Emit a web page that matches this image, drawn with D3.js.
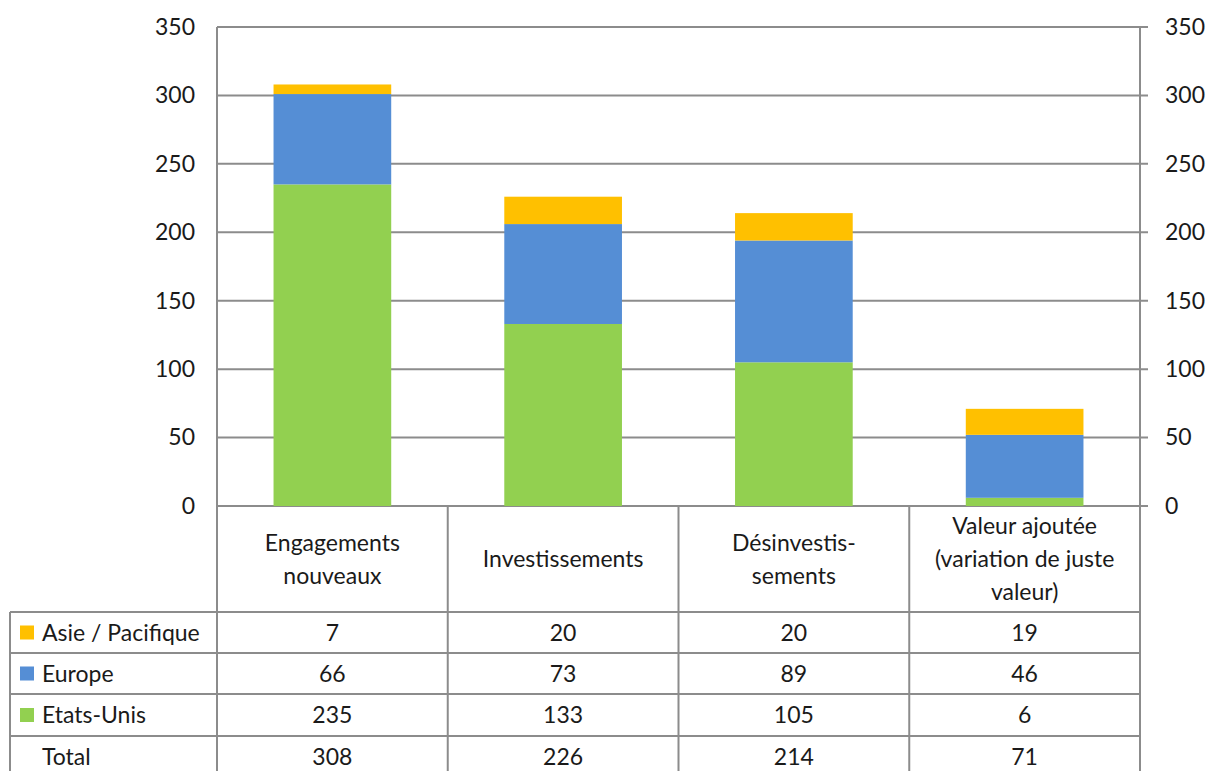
<!DOCTYPE html>
<html>
<head>
<meta charset="utf-8">
<script src="https://cdn.jsdelivr.net/npm/d3@7"></script>
<style>
  body { margin: 0; background: #fff; }
  text { font-family: Lato, "Open Sans", sans-serif; fill: #1a1a1a; }
</style>
</head>
<body>
<svg id="chart"></svg>
<script>
const categories = [
  ["Engagements", "nouveaux"],
  ["Investissements"],
  ["Désinvestis-", "sements"],
  ["Valeur ajoutée", "(variation de juste", "valeur)"]
];
const seriesNames = ["Asie / Pacifique", "Europe", "Etats-Unis"];
const seriesColors = ["#FFC000", "#558ED5", "#92D050"];
const asie = [7, 20, 20, 19];
const europe = [66, 73, 89, 46];
const etatsUnis = [235, 133, 105, 6];
const totals = [308, 226, 214, 71];
const yTicks = [0, 50, 100, 150, 200, 250, 300, 350];

const width = 1212, height = 771;
const plotL = 217, plotR = 1140, plotT = 27, plotB = 506;
const gridColor = "#8c8c8c";
const fs = "23px";

const svg = d3.select("#chart").attr("width", width).attr("height", height);

const x = d3.scaleBand().domain(d3.range(categories.length)).range([plotL, plotR]).paddingInner(0).paddingOuter(0);
const y = d3.scaleLinear().domain([0, 350]).range([plotB, plotT]);
const barW = x.bandwidth() * 0.51;

// gridlines
svg.append("g").selectAll("line").data(yTicks).join("line")
  .attr("x1", plotL).attr("x2", plotR + 8)
  .attr("y1", d => y(d)).attr("y2", d => y(d))
  .attr("stroke", gridColor).attr("stroke-width", 2);

// stacked bars (bottom -> top: Etats-Unis, Europe, Asie)
const rows = categories.map((c, i) => ({ i, us: etatsUnis[i], eu: europe[i], as: asie[i] }));
const stack = d3.stack().keys(["us", "eu", "as"])(rows);
const stackColors = { us: seriesColors[2], eu: seriesColors[1], as: seriesColors[0] };
svg.append("g").selectAll("g").data(stack).join("g")
  .attr("fill", d => stackColors[d.key])
  .selectAll("rect").data(d => d).join("rect")
  .attr("x", d => x(d.data.i) + (x.bandwidth() - barW) / 2)
  .attr("width", barW)
  .attr("y", d => y(d[1]))
  .attr("height", d => y(d[0]) - y(d[1]));

// axes
const yLeft = svg.append("g").attr("transform", `translate(${plotL},0)`)
  .call(d3.axisLeft(y).tickValues(yTicks).tickSize(0).tickPadding(22));
yLeft.select(".domain").remove();
yLeft.selectAll("text").style("font-size", fs).style("font-family", "Lato, sans-serif").attr("fill", "#1a1a1a");

const yRight = svg.append("g").attr("transform", `translate(${plotR},0)`)
  .call(d3.axisRight(y).tickValues(yTicks).tickSize(0).tickPadding(25));
yRight.select(".domain").remove();
yRight.selectAll("text").style("font-size", fs).style("font-family", "Lato, sans-serif").attr("fill", "#1a1a1a")
  .attr("text-anchor", "start");

// table
const tableLeft = 10;
const rowEdges = [plotB, 612, 653, 694, 736, 777];
const tbl = svg.append("g");
const line = (x1, y1, x2, y2) => tbl.append("line")
  .attr("x1", x1).attr("y1", y1).attr("x2", x2).attr("y2", y2)
  .attr("stroke", gridColor).attr("stroke-width", 2);

// vertical lines
line(plotL, plotT, plotL, height);
line(plotR, plotT, plotR, height);
x.domain().slice(1).forEach(i => line(x(i), plotB, x(i), height));
line(tableLeft, rowEdges[1], tableLeft, height);
// horizontal lines
rowEdges.slice(1, 5).forEach(r => line(tableLeft, r, plotR, r));

// category headers
categories.forEach((lines, i) => {
  const cx = x(i) + x.bandwidth() / 2;
  const cy = (rowEdges[0] + rowEdges[1]) / 2;
  const lh = 33;
  const t = tbl.append("text").attr("text-anchor", "middle").style("font-size", fs);
  lines.forEach((l, k) => {
    t.append("tspan").attr("x", cx)
      .attr("y", cy + (k - (lines.length - 1) / 2) * lh)
      .attr("dy", "0.35em").text(l);
  });
});

// data rows
const tableRows = [
  { name: seriesNames[0], color: seriesColors[0], vals: asie },
  { name: seriesNames[1], color: seriesColors[1], vals: europe },
  { name: seriesNames[2], color: seriesColors[2], vals: etatsUnis },
  { name: "Total", color: null, vals: totals }
];
tableRows.forEach((r, k) => {
  const cy = (rowEdges[k + 1] + rowEdges[k + 2]) / 2;
  if (r.color) {
    tbl.append("rect").attr("x", 20).attr("y", cy - 7).attr("width", 14).attr("height", 14).attr("fill", r.color);
  }
  tbl.append("text").attr("x", 42).attr("y", cy).attr("dy", "0.35em")
    .style("font-size", fs).text(r.name);
  r.vals.forEach((v, i) => {
    tbl.append("text").attr("x", x(i) + x.bandwidth() / 2).attr("y", cy).attr("dy", "0.35em")
      .attr("text-anchor", "middle").style("font-size", fs).text(v);
  });
});
</script>
</body>
</html>
